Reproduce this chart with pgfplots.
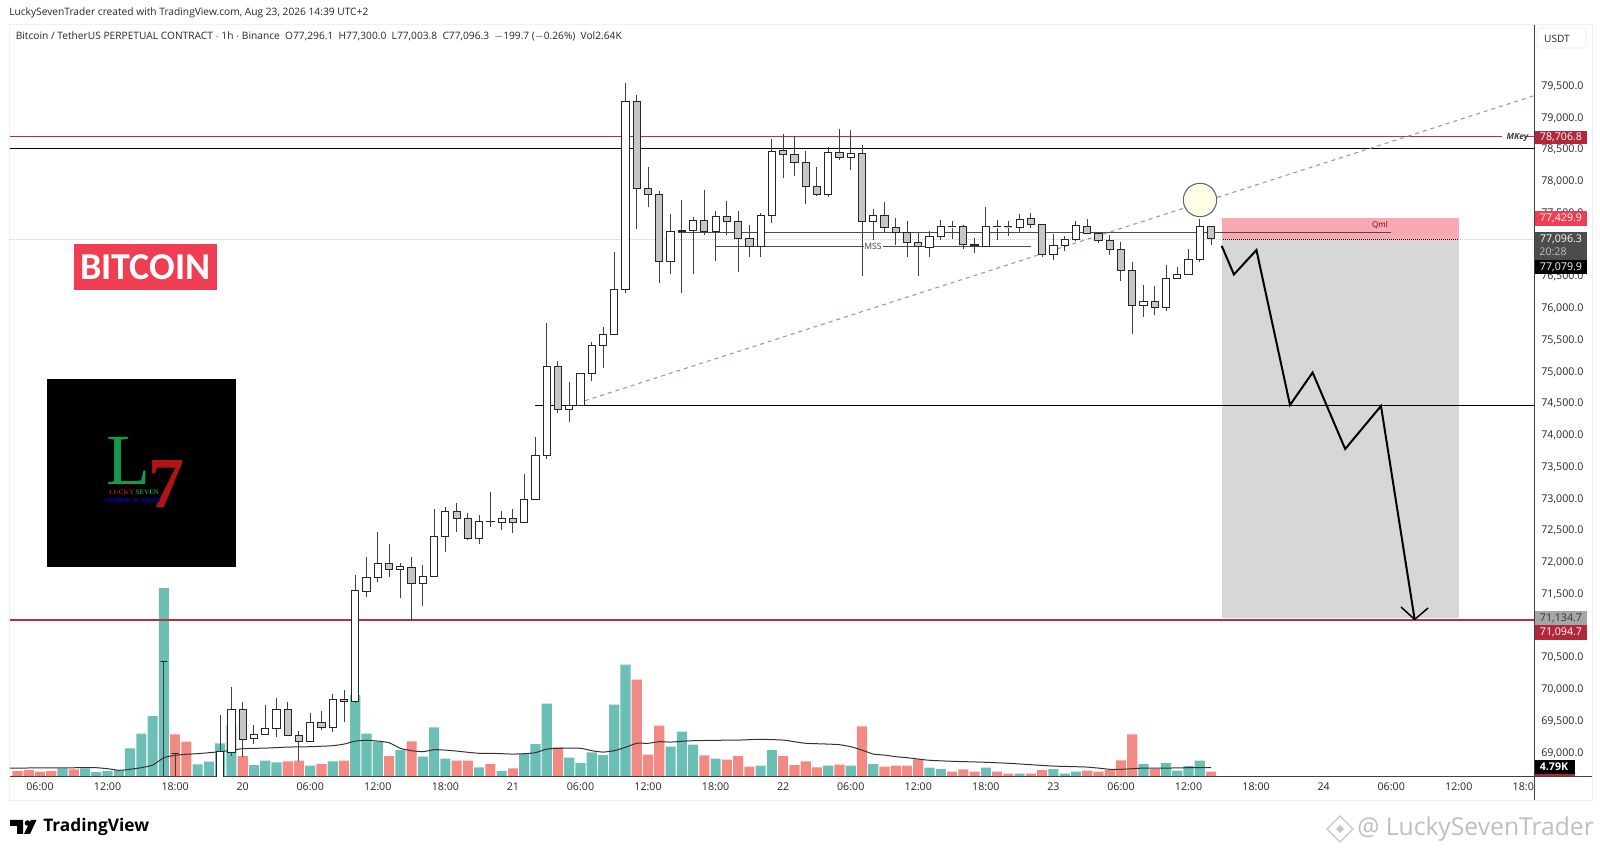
\documentclass[border=0pt]{standalone}
\usepackage{pgfplots}
\usepackage{pgfplotstable}
\usepackage{fontspec}
\pgfplotsset{compat=1.18}
\setmainfont{Open Sans}
\newfontfamily\serifbold{Liberation Serif}
\newfontfamily\carlito{Carlito}
\definecolor{tvteal}{HTML}{6CBFB5}
\definecolor{tvred}{HTML}{F28983}
\definecolor{candlegray}{HTML}{C6C6C6}
\definecolor{lvlred}{HTML}{B23340}
\definecolor{dashblue}{HTML}{8A9BB8}
\definecolor{pinkz}{HTML}{F9A9B2}
\definecolor{grayz}{HTML}{D7D7D7}
\definecolor{badge}{HTML}{EF3E52}
\definecolor{badged}{HTML}{B2283A}
\definecolor{logogreen}{HTML}{159A4F}
\definecolor{logored}{HTML}{B01515}
\pgfplotstableread{
x o h l c
17 70436 70436 68636 70436
18 68998 68998 68636 68998
22 68600 69597 68600 69014
23 69009 70042 68951 69687
24 69687 69806 68940 69214
25 69219 69439 69140 69297
26 69297 69754 69297 69387
27 69387 69864 69255 69687
28 69687 69801 69271 69271
29 69271 69345 68877 69176
30 69176 69624 69176 69475
31 69475 69660 69360 69403
32 69397 69923 69324 69833
33 69833 69990 69486 69806
34 69806 71802 69781 71550
35 71545 72081 71451 71770
36 71766 72484 71696 71975
37 71975 72285 71775 71892
38 71892 71986 71435 71928
39 71923 72090 71077 71660
40 71660 71959 71313 71781
41 71781 72841 71781 72411
42 72411 72877 72169 72799
43 72799 72940 72479 72688
44 72688 72774 72353 72380
45 72380 72747 72290 72648
46 72640 73109 72562 72648
47 72632 72814 72510 72699
48 72699 72837 72459 72632
49 72632 73392 72632 72988
50 72988 73980 72988 73676
51 73676 75766 73629 75089
52 75089 75177 74349 74412
53 74405 74846 74216 74475
54 74475 74988 74475 74978
55 74978 75471 74857 75420
56 75420 75712 75067 75597
57 75597 76894 75582 76302
58 76302 79555 76248 79263
59 79263 79362 77256 77892
60 77892 78232 77593 77798
61 77798 77850 76396 76736
62 76736 77483 76542 77215
63 77231 77708 76238 77215
64 77231 77436 76542 77382
65 77382 77865 77152 77204
66 77204 77535 76752 77445
67 77445 77697 77157 77373
68 77366 77535 76579 77105
69 77105 77314 76815 76983
70 76983 77508 76815 77461
71 77461 78664 77350 78475
72 78480 78743 78059 78421
73 78421 78716 78086 78302
74 78302 78484 77645 77913
75 77913 78223 77771 77791
76 77791 78538 77751 78459
77 78459 78822 78338 78374
78 78374 78810 78180 78444
79 78444 78574 76511 77366
80 77366 77562 76972 77467
81 77467 77672 77209 77272
82 77272 77429 76999 77193
83 77193 77382 76815 77039
84 77039 77204 76511 76971
85 76963 77224 76815 77130
86 77130 77393 77078 77283
87 77283 77377 77098 77288
88 77288 77314 76941 77004
89 77004 77105 76878 76988
90 76983 77593 76963 77283
91 77283 77393 77078 77288
92 77288 77377 77141 77283
93 77272 77487 77209 77404
94 77409 77499 77272 77325
95 77325 77325 76815 76846
96 76846 77172 76763 76995
97 76995 77141 76909 77078
98 77078 77377 77062 77303
99 77298 77413 77172 77188
100 77188 77209 77026 77067
101 77067 77152 76842 76932
102 76932 77042 76437 76601
103 76601 76736 75593 76050
104 76050 76369 75870 76106
105 76106 76353 75892 76007
106 76007 76684 75964 76475
107 76475 76648 76475 76531
108 76531 76936 76531 76774
109 76774 77404 76736 77296
110 77296 77300 77004 77096
}\candles
\pgfplotstableread{
x v
8 4.2
10 4.2
11 2.3
12 2.8
13 3.3
14 14.2
15 21.5
16 30.3
17 94.3
20 6.2
21 7.5
22 16.7
23 25.8
25 5.8
26 8
27 7.2
30 5.5
32 7.7
34 40.8
35 21.5
36 17.5
38 13.3
40 10
41 24.7
42 9
45 4.7
47 2.8
49 11.3
50 16.3
51 36.5
53 9.5
54 6.8
55 12.2
56 10.8
57 36
58 56
62 15
63 22.5
64 16
66 9
70 5.5
71 13.3
76 5.5
78 5.5
80 6.3
85 4.5
86 3.8
90 4.5
93 1.5
96 3.8
97 1.5
98 2.5
104 6.3
106 6.8
107 3
108 5.3
109 8
}\volup
\pgfplotstableread{
x v
4 2.8
5 3.3
6 2.5
7 2.8
9 3.7
18 21.2
19 17.5
24 10.3
28 7.7
29 8
31 6.3
33 8
37 10.3
39 17.7
43 8
44 8
46 6.3
48 4.2
52 14.7
59 48.5
60 11
61 25.5
65 10.7
67 8.5
68 10.3
69 5
72 10.3
73 5.8
74 7.7
75 4.7
77 6
79 25.2
81 5
82 5.5
83 5.5
84 8.7
87 2.5
88 3.7
89 2.5
91 2.5
92 1.5
94 1.5
95 3.3
99 3
100 2.5
101 3.3
102 8.2
103 21.2
105 3.8
110 2.5
}\voldown
\pgfplotstableread{
x v
3.3 4.3
10 4.5
11 4.5
12 4
13 3.2
14 3.7
15 4.5
16 5.8
17 9.5
18 10.7
19 11.2
20 11.5
21 12
22 12.5
23 13.2
24 14
26 14.3
28 14.8
30 15
32 15.5
33 16.3
34 17.8
35 18.2
36 17.8
37 17
38 14.2
39 13
40 12.5
41 13.5
42 13.3
43 12.8
44 12.2
45 11.7
46 11.7
47 11.5
48 11.3
49 11.5
50 12
51 13.8
52 14.2
54 14.2
55 13
56 12.3
57 13
58 14.7
59 16.7
60 16.7
61 17.5
62 17.3
63 17.7
64 18
66 18.2
68 18.3
70 18.7
72 18.3
73 17.5
74 16.7
76 16.3
77 16
78 15
79 13.3
80 11.3
81 10.8
82 10
83 9.5
84 8.8
85 8.2
87 7.7
90 7.2
92 6.7
94 6
96 5.3
98 5
99 4.8
100 4.3
101 3.7
102 3.7
103 4
104 4.3
106 4.3
108 4.5
110 4.5
}\volma
\pgfplotstablegetrowsof{\candles}
\pgfmathtruncatemacro\lastrow{\pgfplotsretval-1}
\begin{document}
\begin{tikzpicture}
\path[use as bounding box,fill=white] (0,0) rectangle (1200pt,639.75pt);
% volume pane
\begin{axis}[at={(6.75pt,57.225pt)},anchor=south west,scale only axis,width=1143.75pt,height=564.525pt,
  xmin=3.247,xmax=138.68,ymin=0,ymax=376.35,hide axis,clip=true]
\addplot[ybar,bar width=0.9,bar shift=0pt,fill=tvteal,draw=none] table[x=x,y=v]{\volup};
\addplot[ybar,bar width=0.9,bar shift=0pt,fill=tvred,draw=none] table[x=x,y=v]{\voldown};
\addplot[black!80,line width=0.75pt,smooth,tension=0.3] table[x=x,y=v]{\volma};
\end{axis}
% price pane
\begin{axis}[at={(6.75pt,57.225pt)},anchor=south west,scale only axis,width=1143.75pt,height=564.525pt,
  xmin=3.247,xmax=138.68,ymin=68625,ymax=80480,
  axis x line*=bottom,axis y line*=right,axis line style={-,black!75,line width=0.6pt},
  xtick={6,12,...,138},
  xticklabels={06:00,12:00,18:00,20,06:00,12:00,18:00,21,06:00,12:00,18:00,22,06:00,12:00,18:00,23,06:00,12:00,18:00,24,06:00,12:00,18:00},
  ytick={69000,69500,...,79500},
  major tick length=0pt,
  /pgf/number format/assume math mode=true,
  /pgf/number format/.cd,fixed,fixed zerofill,precision=1,1000 sep={,},/pgfplots/.cd,
  scaled y ticks=false,
  tick label style={font=\fontsize{8}{9}\selectfont,text=black!85},
  yticklabel style={xshift=2pt},
  xticklabel style={yshift=-1pt},
  clip=true]
% trade zones
\addplot[fill=grayz,draw=none] coordinates {(110.97,71125)(132.02,71125)(132.02,77080)(110.97,77080)} --cycle;
\addplot[fill=pinkz,draw=none] coordinates {(110.97,77080)(132.02,77080)(132.02,77430)(110.97,77430)} --cycle;
\addplot[black!70!red,line width=0.8pt] coordinates {(110.97,77080)(132.02,77080)};
% levels
\addplot[black!20,densely dotted,line width=0.5pt] coordinates {(3.2,77096)(138.7,77096)};
\addplot[lvlred,line width=1.4pt] coordinates {(3.2,78707)(135.8,78707)};
\addplot[lvlred,line width=1.4pt] coordinates {(137.9,78707)(138.7,78707)};
\addplot[black,line width=0.6pt] coordinates {(3.2,78522)(138.7,78522)};
\addplot[black,line width=0.6pt] coordinates {(49.96,74475)(138.7,74475)};
\addplot[lvlred,line width=1.4pt] coordinates {(3.2,71095)(138.7,71095)};
\addplot[black!70,line width=0.7pt] coordinates {(62.66,77204)(125.98,77204)};
\addplot[black!70,line width=0.7pt] coordinates {(65.95,76983)(94,76983)};
\addplot[dashblue,dashed,line width=0.8pt] coordinates {(54.4,74547)(138.7,79352)};
% candles
\pgfplotsforeachungrouped \i in {0,...,\lastrow}{
  \pgfplotstablegetelem{\i}{x}\of\candles \let\cx\pgfplotsretval
  \pgfplotstablegetelem{\i}{o}\of\candles \let\co\pgfplotsretval
  \pgfplotstablegetelem{\i}{h}\of\candles \let\ch\pgfplotsretval
  \pgfplotstablegetelem{\i}{l}\of\candles \let\cl\pgfplotsretval
  \pgfplotstablegetelem{\i}{c}\of\candles \let\cc\pgfplotsretval
  \pgfmathsetmacro\cxa{\cx-0.32}
  \pgfmathsetmacro\cxb{\cx+0.32}
  \ifnum\co<\cc \def\cf{white}\else\def\cf{candlegray}\fi
  \edef\tmp{%
    \noexpand\addplot[black!75,line width=0.75pt] coordinates {(\cx,\cl)(\cx,\ch)};
    \noexpand\addplot[draw=black!85,line width=0.75pt,fill=\cf] coordinates {(\cxa,\co)(\cxb,\co)(\cxb,\cc)(\cxa,\cc)} --cycle;
  }
  \tmp
}
% projected path
\addplot[black,line width=1.5pt,line join=miter] coordinates {(110.95,76984)(112.03,76535)(114.03,76920)(117.01,74479)(119.02,74991)(121.91,73786)(125.09,74464)(128.08,71101)};
\addplot[black,line width=1.1pt] coordinates {(126.87,71298)(128.08,71101)(129.27,71282)};
\end{axis}
\begin{scope}[x=0.75pt,y=-0.75pt,shift={(0,639.75pt)}]
% clip 18:00 label
\fill[white] (1534.5,778) rectangle (1575,799);
\draw[black!75,line width=0.6pt] (1534,24) -- (1534,800);
\draw[black!75,line width=0.6pt] (1534,776.7) -- (1592,776.7);
\draw[black!6,line width=0.6pt] (9,24) -- (1592,24) -- (1592,800) -- (9,800) -- cycle;
\draw[black!8,fill=white,rounded corners=2pt,line width=0.4pt] (1537,28) rectangle (1586,48);
\node[font=\fontsize{7.6}{9}\selectfont,text=black!85] at (1557,38.5) {USDT};
% header
\node[anchor=west,inner sep=0,font=\fontsize{7.65}{9}\selectfont,text=black!85] at (9,13) {LuckySevenTrader created with TradingView.com, Aug 23, 2026 14:39 UTC+2};
\node[anchor=west,inner sep=0,font=\fontsize{7.65}{9}\selectfont,text=black!85] at (15.5,36) {Bitcoin / TetherUS PERPETUAL CONTRACT $\cdot$ 1h $\cdot$ Binance\ \ O77,296.1\ \ H77,300.0\ \ L77,003.8\ \ C77,096.3\ \ $-$199.7 ($-$0.26\%)\ \ Vol2.64K};
% annotations
\fill[fill=white] (864,240) rectangle (883,252);
\node[font=\fontsize{6.5}{7}\selectfont,text=black!75] at (873,246.5) {MSS};
\node[font=\fontsize{6.4}{7}\selectfont\bfseries\itshape,text=black!75] at (1517.5,137) {MKey};
\node[font=\fontsize{6}{7}\selectfont,text=black!55!red] at (1380,225) {Qml};
\draw[black!60,fill=yellow!10!white,line width=0.8pt] (1200,200) circle[radius=16.7];
% bitcoin badge
\fill[fill=badge] (73.9,244) rectangle (217,290);
\node[text=white,font=\carlito\bfseries\fontsize{28.5}{30}\selectfont] at (145.5,267) {BITCOIN};
% logo
\fill[black] (47,379) rectangle (236,567);
\node[text=logogreen,font=\serifbold\fontsize{54}{54}\selectfont,inner sep=0] at (128,461) {L};
\node[text=logored,font=\serifbold\bfseries\fontsize{54}{54}\selectfont,inner sep=0] at (166,484) {7};
\node[font=\serifbold\bfseries\fontsize{5.2}{6}\selectfont,inner sep=0] at (134,492.5) {\textcolor{logored}{LUCKY}\ \textcolor{logogreen}{SEVEN}};
\node[font=\serifbold\bfseries\fontsize{4.2}{5}\selectfont,inner sep=0,text=blue!90!black] at (133,500.5) {TRADING ACADEMY};
% price badges
\def\pb#1#2#3#4#5{\fill[fill=#1] (1534.5,#2) rectangle (1587,#3);\node[text=#4,font=\fontsize{8}{9}\selectfont,inner sep=0] at (1561,{(#2+#3)/2}) {#5};}
\pb{badged}{130.7}{144}{white}{78,706.8}
\pb{badge}{210.7}{226}{white}{77,429.9}
\fill[fill=black!70] (1534.5,232.3) rectangle (1587,260);
\node[text=white,font=\fontsize{8}{9}\selectfont,inner sep=0] at (1561,239) {77,096.3};
\node[text=black!25,font=\fontsize{8}{9}\selectfont,inner sep=0] at (1553,252) {20:28};
\pb{black}{260}{274}{white}{77,079.9}
\pb{black!35}{610.7}{625}{black!80}{71,134.7}
\pb{badged}{625}{640}{white}{71,094.7}
\fill[black] (1534.5,760) rectangle (1575,774);
\fill[fill=badged] (1534.5,774) rectangle (1575,776.5);
\node[text=white,font=\bfseries\fontsize{8}{9}\selectfont,inner sep=0] at (1554,767) {4.79K};
% footer logo
\fill[black] (10,820) -- (23,820) -- (23,834) -- (17,834) -- (17,826) -- (10,826) -- cycle;
\fill[black] (27.5,823) circle[radius=2.8];
\fill[black] (31,820) -- (36.5,820) -- (30,834) -- (24,834) -- cycle;
\node[anchor=west,inner sep=0,font=\bfseries\fontsize{13}{15}\selectfont,text=black] at (43,827) {TradingView};
% watermark
\draw[black!22,line width=1pt] (1340,816) -- (1353,829) -- (1340,842) -- (1327,829) -- cycle;
\fill[black!22] (1340,825) -- (1344,829) -- (1340,833) -- (1336,829) -- cycle;
\node[anchor=west,inner sep=0,font=\fontsize{18.5}{21}\selectfont,text=black!25] at (1357,829) {@ LuckySevenTrader};
\end{scope}
\end{tikzpicture}
\end{document}
